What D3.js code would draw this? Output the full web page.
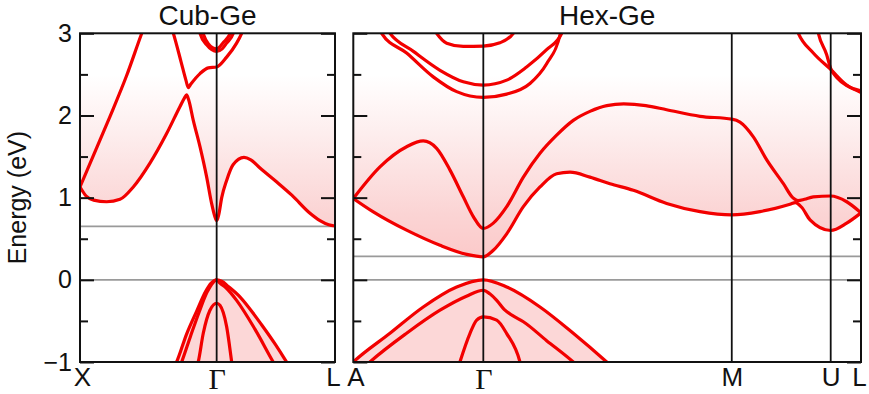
<!DOCTYPE html>
<html>
<head>
<meta charset="utf-8">
<script src="https://cdn.jsdelivr.net/npm/d3@7"></script>
<style>
  html, body { margin: 0; padding: 0; background: #fff; }
  svg { display: block; font-family: "Liberation Sans", Arial, Helvetica, sans-serif; }
</style>
</head>
<body>
<svg id="chart" width="869" height="394"></svg>
<script>
// ---- Energy axis (eV) ----
const energyDomain = [-1, 3];
const majorTicks = [-1, 0, 1, 2, 3];
const minorTicks = [-0.5, 0.5, 1.5, 2.5];

// ---- Cubic Ge, path X – Γ – L (k in units of |XΓ|) ----
const cubKPoints = [0, 1, 1.866];
const cubKLabels = ["X", "Γ", "L"];
const cubGapLines = [0, 0.65];

const cubCB1 = [[0,1.13],[0.045,1.02],[0.1,0.97],[0.195,0.95],[0.293,0.98],[0.39,1.13],[0.512,1.42],[0.634,1.78],[0.732,2.11],[0.765,2.215],[0.78,2.25],[0.795,2.19],[0.829,1.94],[0.878,1.62],[0.927,1.25],[0.963,0.93],[0.985,0.78],[1.0,0.72],[1.015,0.79],[1.037,1.0],[1.073,1.21],[1.12,1.40],[1.2,1.49],[1.25,1.46],[1.317,1.36],[1.44,1.19],[1.55,1.03],[1.683,0.81],[1.756,0.72],[1.82,0.67],[1.866,0.655]];
const cubCB2 = [[0,1.13],[0.1,1.52],[0.22,1.99],[0.34,2.48],[0.452,3.0],[0.47,3.08]];
const cubCB3 = [[0.66,3.12],[0.683,3.0],[0.74,2.65],[0.775,2.43],[0.792,2.34],[0.81,2.38],[0.878,2.51],[0.939,2.58],[1.0,2.59],[1.073,2.71],[1.146,2.88],[1.183,3.0],[1.2,3.07]];
const cubCB4 = [[0.87,3.05],[0.878,3.0],[0.927,2.86],[0.965,2.80],[1.0,2.78],[1.04,2.81],[1.073,2.88],[1.122,3.0],[1.13,3.04]];
const cubCB5 = [[0.89,3.05],[0.9,3.0],[0.94,2.87],[1.0,2.81],[1.05,2.89],[1.1,3.0],[1.11,3.04]];
const cubVB1 = [[0.69,-1.06],[0.707,-1.0],[0.78,-0.66],[0.854,-0.38],[0.92,-0.14],[0.96,-0.04],[1.0,0],[1.04,-0.02],[1.085,-0.08],[1.16,-0.19],[1.232,-0.33],[1.33,-0.55],[1.427,-0.78],[1.512,-1.0],[1.535,-1.06]];
const cubVB2 = [[0.73,-1.06],[0.744,-1.0],[0.81,-0.68],[0.87,-0.40],[0.93,-0.15],[0.97,-0.04],[1.0,0],[1.024,-0.04],[1.07,-0.10],[1.146,-0.25],[1.28,-0.60],[1.414,-1.0],[1.435,-1.06]];
const cubVB3 = [[0.855,-1.06],[0.865,-1.0],[0.902,-0.65],[0.951,-0.37],[1.0,-0.285],[1.024,-0.31],[1.073,-0.57],[1.11,-1.0],[1.115,-1.06]];

// ---- Hexagonal Ge, path A – Γ – M – U – L (k in units of |AΓ|) ----
const hexKPoints = [0, 1, 2.911, 3.672, 3.905];
const hexKLabels = ["A", "Γ", "M", "U", "L"];
const hexGapLines = [0, 0.285];

const hexCB1 = [[0,0.99],[0.154,0.827],[0.41,0.604],[0.667,0.42],[0.872,0.31],[1.0,0.28],[1.077,0.36],[1.18,0.56],[1.308,0.89],[1.436,1.13],[1.564,1.29],[1.667,1.31],[1.82,1.25],[1.974,1.17],[2.154,1.09],[2.41,0.93],[2.667,0.83],[2.911,0.79],[3.128,0.83],[3.359,0.92],[3.40,0.94],[3.45,0.88],[3.513,0.73],[3.672,0.60],[3.795,0.69],[3.905,0.815]];
const hexCB2 = [[0,0.99],[0.205,1.375],[0.41,1.62],[0.538,1.69],[0.641,1.6],[0.744,1.335],[0.846,1.01],[0.923,0.77],[1.0,0.625],[1.077,0.69],[1.18,0.89],[1.308,1.25],[1.436,1.54],[1.564,1.76],[1.692,1.94],[1.82,2.05],[1.95,2.12],[2.08,2.14],[2.25,2.12],[2.41,2.07],[2.667,1.99],[2.911,1.955],[2.974,1.92],[3.077,1.74],[3.18,1.46],[3.308,1.17],[3.38,1.0],[3.42,0.965],[3.47,0.98],[3.538,1.01],[3.672,1.02],[3.795,0.95],[3.905,0.815]];
const hexCB3 = [[0.2,3.05],[0.218,3.0],[0.41,2.76],[0.615,2.47],[0.795,2.29],[1.0,2.22],[1.18,2.26],[1.359,2.39],[1.487,2.63],[1.59,2.98],[1.6,3.05]];
const hexCB4 = [[0.26,3.05],[0.282,3.0],[0.462,2.78],[0.667,2.55],[0.846,2.41],[1.0,2.37],[1.18,2.43],[1.333,2.59],[1.487,2.80],[1.603,3.0],[1.61,3.05]];
const hexCB5 = [[0.62,3.05],[0.641,3.0],[0.718,2.88],[0.846,2.84],[1.0,2.845],[1.128,2.885],[1.231,3.0],[1.24,3.05]];
const hexCB6 = [[3.41,3.05],[3.423,3.0],[3.538,2.76],[3.672,2.56],[3.795,2.37],[3.905,2.28]];
const hexCB7 = [[3.57,3.05],[3.577,3.0],[3.641,2.74],[3.672,2.57],[3.72,2.46],[3.8,2.36],[3.905,2.30]];
const hexVB1 = [[-0.02,-1.03],[0,-1.0],[0.282,-0.65],[0.538,-0.33],[0.795,-0.087],[1.0,0],[1.18,-0.087],[1.436,-0.33],[1.692,-0.65],[1.949,-1.0],[1.97,-1.03]];
const hexVB2 = [[0.1,-1.04],[0.128,-1.0],[0.41,-0.65],[0.667,-0.37],[0.87,-0.2],[1.0,-0.127],[1.05,-0.17],[1.103,-0.25],[1.16,-0.36],[1.22,-0.43],[1.308,-0.51],[1.487,-0.74],[1.692,-1.0],[1.72,-1.04]];
const hexVB3 = [[0.81,-1.05],[0.82,-1.0],[0.897,-0.654],[0.949,-0.49],[1.0,-0.45],[1.103,-0.49],[1.18,-0.654],[1.282,-1.0],[1.29,-1.05]];

// ---- Layout ----
const plotTop = 33.3, plotBottom = 362;
const panels = [
  { id: "cub", title: "Cub-Ge", left: 80, right: 335,
    kPoints: cubKPoints, kLabels: cubKLabels, gapLines: cubGapLines,
    bands: [cubCB1, cubCB2, cubCB3, cubCB4, cubCB5, cubVB1, cubVB2, cubVB3],
    cbEdge: cubCB1, vbEdge: cubVB1, energyLabels: true },
  { id: "hex", title: "Hex-Ge", left: 353.3, right: 861,
    kPoints: hexKPoints, kLabels: hexKLabels, gapLines: hexGapLines,
    bands: [hexCB1, hexCB2, hexCB3, hexCB4, hexCB5, hexCB6, hexCB7, hexVB1, hexVB2, hexVB3],
    cbEdge: hexCB1, vbEdge: hexVB1, energyLabels: false }
];

const svg = d3.select("#chart");
const defs = svg.append("defs");
const y = d3.scaleLinear().domain(energyDomain).range([plotBottom, plotTop]);

// conduction-band shading fades out with energy
const gradLow = 0.3, gradHigh = 2.5;
const grad = defs.append("linearGradient")
  .attr("id", "cbShade")
  .attr("gradientUnits", "userSpaceOnUse")
  .attr("x1", 0).attr("x2", 0)
  .attr("y1", y(gradLow)).attr("y2", y(gradHigh));
[[0.3, "#fbcaca"], [0.8, "#fbd4d4"], [1.3, "#fce1e1"], [1.8, "#fdeeee"], [2.2, "#fff8f8"], [2.5, "#ffffff"]]
  .forEach(([e, c]) => grad.append("stop")
    .attr("offset", (e - gradLow) / (gradHigh - gradLow))
    .attr("stop-color", c));

function drawPanel(p) {
  const x = d3.scaleLinear().domain([0, d3.max(p.kPoints)]).range([p.left, p.right]);
  const curve = d3.curveMonotoneX;

  defs.append("clipPath").attr("id", "clip-" + p.id)
    .append("rect")
    .attr("x", p.left).attr("y", plotTop)
    .attr("width", p.right - p.left).attr("height", plotBottom - plotTop);

  const plot = svg.append("g").attr("clip-path", `url(#clip-${p.id})`);

  // shaded regions above the lowest conduction band and below the top valence band
  plot.append("path").datum(p.cbEdge)
    .attr("d", d3.area().curve(curve).x(d => x(d[0])).y0(y(3.3)).y1(d => y(d[1])))
    .attr("fill", "url(#cbShade)");
  plot.append("path").datum(p.vbEdge)
    .attr("d", d3.area().curve(curve).x(d => x(d[0])).y0(y(-1.3)).y1(d => y(d[1])))
    .attr("fill", "#fcd7d7");

  // band-edge reference lines
  plot.selectAll("line.gap").data(p.gapLines).join("line")
    .attr("class", "gap")
    .attr("x1", p.left).attr("x2", p.right)
    .attr("y1", d => y(d)).attr("y2", d => y(d))
    .attr("stroke", "#9a9a9a").attr("stroke-width", 1.8);

  // bands
  const line = d3.line().curve(curve).x(d => x(d[0])).y(d => y(d[1]));
  plot.selectAll("path.band").data(p.bands).join("path")
    .attr("class", "band")
    .attr("d", line)
    .attr("fill", "none")
    .attr("stroke", "#f20000")
    .attr("stroke-width", 3.2)
    .attr("stroke-linejoin", "round")
    .attr("stroke-linecap", "round");

  // high-symmetry point verticals
  plot.selectAll("line.kp").data(p.kPoints.slice(1, -1)).join("line")
    .attr("class", "kp")
    .attr("x1", d => x(d)).attr("x2", d => x(d))
    .attr("y1", plotTop).attr("y2", plotBottom)
    .attr("stroke", "#111").attr("stroke-width", 1.8);

  // inward ticks on both sides
  const tickSets = [[majorTicks, 14], [minorTicks, 8]];
  tickSets.forEach(([vals, len]) => {
    const gl = svg.append("g").attr("transform", `translate(${p.left},0)`)
      .call(d3.axisLeft(y).tickValues(vals).tickSize(-len).tickFormat(""));
    const gr = svg.append("g").attr("transform", `translate(${p.right},0)`)
      .call(d3.axisRight(y).tickValues(vals).tickSize(-len).tickFormat(""));
    [gl, gr].forEach(g => {
      g.select(".domain").remove();
      g.selectAll(".tick line").attr("stroke", "#111").attr("stroke-width", 2);
    });
  });

  if (p.energyLabels) {
    const ga = svg.append("g").attr("transform", `translate(${p.left},0)`)
      .call(d3.axisLeft(y).tickValues(majorTicks).tickSize(0).tickPadding(8)
        .tickFormat(d3.format("d")));
    ga.select(".domain").remove();
    ga.selectAll("text")
      .attr("font-family", "'Liberation Sans', Arial, sans-serif")
      .attr("font-size", 25).attr("fill", "#111");
  }

  // high-symmetry point labels (end labels nudged inward)
  const last = p.kPoints.length - 1;
  const gx = svg.append("g").attr("transform", `translate(0,${plotBottom})`)
    .call(d3.axisBottom(x).tickValues(p.kPoints)
      .tickFormat((d, i) => p.kLabels[i]).tickSize(0).tickPadding(6));
  gx.select(".domain").remove();
  gx.selectAll("text")
    .attr("fill", "#111")
    .attr("dx", (d, i) => i === 0 ? 2 : (i === last ? -2 : 0))
    .attr("font-family", (d, i) => p.kLabels[i] === "Γ" ? "'Liberation Serif', 'Times New Roman', serif" : "'Liberation Sans', Arial, sans-serif")
    .attr("font-size", (d, i) => p.kLabels[i] === "Γ" ? 30 : 26);

  // frame
  svg.append("rect")
    .attr("x", p.left).attr("y", plotTop)
    .attr("width", p.right - p.left).attr("height", plotBottom - plotTop)
    .attr("fill", "none").attr("stroke", "#111").attr("stroke-width", 2);

  // title
  svg.append("text")
    .attr("x", (p.left + p.right) / 2).attr("y", 25)
    .attr("text-anchor", "middle")
    .attr("font-size", 28).attr("fill", "#111")
    .text(p.title);
}

panels.forEach(drawPanel);

svg.append("text")
  .attr("transform", `translate(26,${(plotTop + plotBottom) / 2}) rotate(-90)`)
  .attr("text-anchor", "middle")
  .attr("font-size", 25).attr("fill", "#111")
  .text("Energy (eV)");
</script>
</body>
</html>
